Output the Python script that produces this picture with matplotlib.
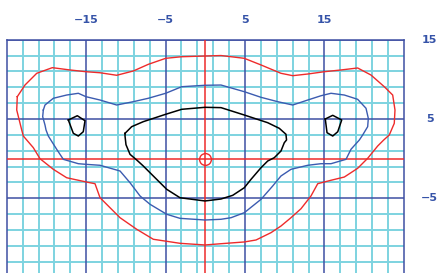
import numpy as np
import matplotlib
matplotlib.use("Agg")
import matplotlib.pyplot as plt

# contour traces (data units)
red_x = [-23.68, -22.71, -21.23, -19.27, -17.04, -15.03, -13.26, -11.16, -9.07, -7.18, -4.99, -2.97,
         -0.04, 1.98, 4.91, 7.02, 9.53, 11.01, 12.90, 14.99, 17.09, 19.19, 20.87, 22.54, 23.60,
         23.89, 23.80, 23.17, 22.47, 21.71, 20.45, 19.19, 17.51, 15.83, 14.16, 13.31, 12.05, 10.79,
         9.53, 8.27, 6.39, 4.91, 1.98, -0.04, -3.19, -6.55, -8.64, -10.74, -12.00, -13.26, -13.89,
         -14.52, -15.57, -17.46, -19.14, -20.82, -21.66, -22.92, -23.12, -23.75, -23.68]
red_y = [7.82, 9.29, 10.77, 11.48, 11.19, 10.97, 10.84, 10.52, 11.06, 11.90, 12.66, 12.86,
         12.95, 13.01, 12.66, 11.82, 10.77, 10.47, 10.68, 10.97, 11.19, 11.44, 10.55, 9.08, 8.03,
         6.14, 4.46, 2.99, 2.36, 1.60, 0.05, -1.21, -2.31, -2.72, -3.15, -4.70, -6.31, -7.44,
         -8.49, -9.33, -10.25, -10.50, -10.72, -10.88, -10.67, -10.16, -8.90, -7.44, -6.18, -4.92, -3.15,
         -3.03, -2.81, -2.40, -1.34, 0.00, 1.39, 2.86, 3.62, 6.14, 7.82]

blue_x = [-20.40, -20.19, -19.14, -17.46, -15.99, -15.03, -13.26, -11.16, -9.07, -7.18, -4.99, -2.97,
          -0.04, 1.98, 4.91, 7.02, 9.12, 11.01, 12.90, 14.57, 15.83, 17.51, 19.19, 20.24, 20.53,
          20.45, 19.82, 19.40, 18.35, 17.72, 15.83, 14.57, 12.90, 10.79, 9.53, 8.49, 7.02, 4.91,
          3.24, 1.98, -0.04, -3.19, -4.86, -6.96, -8.22, -9.48, -10.74, -13.26, -15.03, -15.99,
          -17.88, -18.72, -19.77, -20.06, -20.19, -20.48, -20.40]
blue_y = [6.14, 6.77, 7.62, 8.03, 8.25, 7.82, 7.40, 6.77, 7.19, 7.62, 8.25, 9.08,
          9.26, 9.29, 8.45, 7.74, 7.19, 6.77, 7.40, 7.94, 8.25, 8.03, 7.49, 6.36, 5.09,
          4.04, 2.99, 2.36, 1.19, -0.08, -0.63, -0.63, -0.83, -1.34, -2.18, -3.44, -5.12, -6.81,
          -7.44, -7.64, -7.73, -7.52, -7.01, -5.75, -4.70, -3.03, -1.55, -0.83, -0.71, -0.63,
          -0.08, 1.19, 2.86, 3.62, 4.25, 5.30, 6.14]

black_x = [-10.11, -9.27, -7.81, -4.99, -2.97, -0.04, 1.98, 4.91, 7.86, 9.32, 10.16, 10.23, 9.95,
           9.53, 8.69, 7.86, 7.02, 5.76, 4.91, 3.45, 1.98, -0.04, -3.19, -4.86, -6.55, -7.81,
           -8.64, -9.48, -9.99, -10.11, -10.11]
black_y = [3.20, 4.04, 4.67, 5.60, 6.23, 6.48, 6.44, 5.51, 4.54, 3.83, 3.08, 2.36, 2.02,
           0.97, 0.13, -0.29, -1.13, -2.60, -3.66, -4.62, -5.08, -5.33, -4.92, -3.86, -2.18, -0.92,
           -0.16, 0.55, 1.77, 2.86, 3.20]

left_x = [-17.25, -16.12, -15.15, -15.37, -15.99, -16.62, -17.25]
left_y = [4.88, 5.42, 4.79, 3.40, 2.86, 3.20, 4.88]
right_x = [15.11, 16.05, 17.18, 16.68, 16.05, 15.33, 15.11]
right_y = [5.01, 5.47, 4.88, 3.40, 2.86, 3.28, 5.01]

major_ticks = [-15, -5, 5, 15]
minor_ticks = list(range(-23, 25, 2))

LABEL_C = '#3553a8'
DARK_C = '#3f4fa3'
CYAN_C = '#7dd3e0'
RED_C = '#ee2b2b'


def main():
    fig = plt.figure(figsize=(4.42, 2.73), dpi=100)
    ax = fig.add_axes([0.01538, -0.01703, 0.8982, 0.8714])
    ax.set_xlim(-25, 25)
    ax.set_ylim(-15, 15)

    for v in minor_ticks:
        if v in major_ticks:
            continue
        ax.axvline(v, color=CYAN_C, lw=1.4, zorder=1)
        if -15 < v < 15:
            ax.axhline(v, color=CYAN_C, lw=1.4, zorder=1)
    for v in major_ticks:
        ax.axvline(v, color=DARK_C, lw=1.1, zorder=2)
        ax.axhline(v, color=DARK_C, lw=1.1, zorder=2)

    ax.axvline(0, color=RED_C, lw=1.1, zorder=3)
    ax.axhline(0, color=RED_C, lw=1.1, zorder=3)
    ax.plot([0], [0], marker='o', ms=8.5, mfc='none', mec=RED_C, mew=1.0, zorder=4)

    ax.plot(red_x, red_y, color=RED_C, lw=1.0, zorder=5)
    ax.plot(blue_x, blue_y, color='#3b5bb0', lw=1.0, zorder=5)
    ax.plot(black_x, black_y, color='black', lw=1.1, zorder=5)
    ax.plot(left_x, left_y, color='black', lw=1.1, zorder=5)
    ax.plot(right_x, right_y, color='black', lw=1.1, zorder=5)

    ax.set_xticks([])
    ax.set_yticks([])
    for s in ax.spines.values():
        s.set_color(DARK_C)
        s.set_linewidth(1.1)

    for v in major_ticks:
        lab = str(v).replace('-', '\u2212')
        ax.text(v, 1.084, lab, transform=ax.get_xaxis_transform(), ha='center', va='center',
                color=LABEL_C, fontsize=8, fontweight='bold', clip_on=False)
        ax.text(1.0655, v, lab, transform=ax.get_yaxis_transform(), ha='center', va='center',
                color=LABEL_C, fontsize=8, fontweight='bold', clip_on=False)

    fig.savefig('out.png', dpi=100)


if __name__ == '__main__':
    main()
